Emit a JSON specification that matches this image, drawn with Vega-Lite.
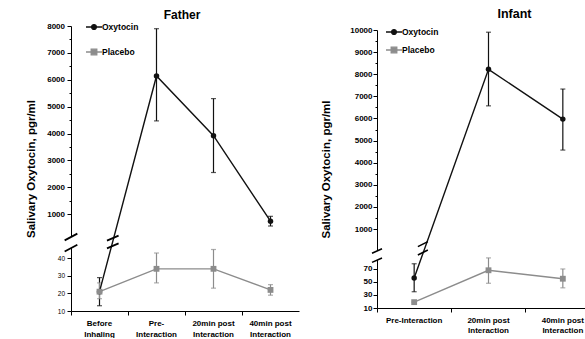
{
  "$schema": "https://vega.github.io/schema/vega-lite/v6.json",
  "padding": {"left": 25, "top": 8, "right": 0, "bottom": 0},
  "background": "white",
  "config": {
    "font": "Liberation Sans",
    "view": {"stroke": null},
    "axis": {"grid": false, "domainColor": "#000", "tickColor": "#000", "labelColor": "#000", "titleColor": "#000", "labelFont": "Liberation Sans", "titleFont": "Liberation Sans", "labelOverlap": false},
    "legend": {"labelFont": "Liberation Sans", "labelColor": "#000"},
    "title": {"font": "Liberation Sans", "color": "#000"}
  },
  "bounds": "flush",
  "spacing": 78,
  "resolve": {"scale": {"x": "independent", "y": "independent", "color": "independent"}, "legend": {"color": "independent"}},
  "hconcat": [
    {
      "width": 228,
      "height": 285,
      "title": {"text": "Father", "fontSize": 12, "fontWeight": "bold", "dx": -3, "offset": -12.5, "baseline": "alphabetic"},
      "data": {"values": [
        {"cat": "Before Inhaling", "group": "Oxytocin", "value": 21, "lo": 13, "hi": 29},
        {"cat": "Pre-Interaction", "group": "Oxytocin", "value": 6140, "lo": 4470, "hi": 7900},
        {"cat": "20min post Interaction", "group": "Oxytocin", "value": 3920, "lo": 2550, "hi": 5300},
        {"cat": "40min post Interaction", "group": "Oxytocin", "value": 740, "lo": 560, "hi": 920},
        {"cat": "Before Inhaling", "group": "Placebo", "value": 21, "lo": 17, "hi": 26},
        {"cat": "Pre-Interaction", "group": "Placebo", "value": 34, "lo": 26, "hi": 43},
        {"cat": "20min post Interaction", "group": "Placebo", "value": 34, "lo": 23, "hi": 45},
        {"cat": "40min post Interaction", "group": "Placebo", "value": 22, "lo": 19, "hi": 25}
      ]},
      "encoding": {
        "x": {
          "field": "cat", "type": "nominal",
          "sort": ["Before Inhaling", "Pre-Interaction", "20min post Interaction", "40min post Interaction"],
          "scale": {"type": "band", "paddingInner": 0, "paddingOuter": 0},
          "axis": {"title": null, "labelAngle": 0, "bandPosition": 0, "tickSize": 4, "labelPadding": 4, "labelFontSize": 8, "labelFontWeight": "bold", "labelLineHeight": 11,
            "labelExpr": "datum.value == 'Before Inhaling' ? ['Before','Inhaling'] : datum.value == 'Pre-Interaction' ? ['Pre-','Interaction'] : datum.value == '20min post Interaction' ? ['20min post','Interaction'] : ['40min post','Interaction']"}
        }
      },
      "layer": [
        {
          "mark": {"type": "rule", "strokeWidth": 1.2},
          "encoding": {
            "y": {"field": "lo", "type": "quantitative",
              "scale": {"domain": [10, 45, 300, 8000], "range": [285, 223.5, 207, 0], "nice": false, "zero": false},
              "axis": {"title": "Salivary Oxytocin, pgr/ml", "titleFontSize": 11.5, "titleFontWeight": "bold", "titlePadding": 10,
                "values": [10, 20, 30, 40, 1000, 1500, 2000, 2500, 3000, 3500, 4000, 4500, 5000, 5500, 6000, 6500, 7000, 7500, 8000],
                "tickCount": 200,
                "format": "d", "labelOverlap": false, "labelFlush": false, "labelBound": false,
                "labelExpr": "datum.value >= 1000 && datum.value % 1000 != 0 ? '' : datum.label",
                "labelFontSize": {"condition": {"test": "datum.value < 100", "value": 6.5}, "value": 8},
                "labelFontWeight": {"condition": {"test": "datum.value < 100", "value": "normal"}, "value": "bold"},
                "tickSize": {"condition": {"test": "datum.value >= 1000 && datum.value % 1000 != 0", "value": 2}, "value": 4},
                "labelPadding": 2.5}},
            "y2": {"field": "hi"},
            "color": {"field": "group", "type": "nominal", "scale": {"domain": ["Oxytocin", "Placebo"], "range": ["#111111", "#8c8c8c"]}}
          }
        },
        {
          "mark": {"type": "tick", "thickness": 1.2, "size": 5},
          "encoding": {
            "y": {"field": "lo", "type": "quantitative"},
            "color": {"field": "group", "type": "nominal"}
          }
        },
        {
          "mark": {"type": "tick", "thickness": 1.2, "size": 5},
          "encoding": {
            "y": {"field": "hi", "type": "quantitative"},
            "color": {"field": "group", "type": "nominal"}
          }
        },
        {
          "mark": {"type": "line", "strokeWidth": 1.4},
          "encoding": {
            "y": {"field": "value", "type": "quantitative"},
            "order": {"value": null},
            "color": {"field": "group", "type": "nominal",
              "legend": {"orient": "none", "legendX": 14, "legendY": -8, "title": null, "symbolSize": 256, "labelFontSize": 8.5, "labelFontWeight": "bold", "rowPadding": 11, "labelOffset": -1, "symbolStrokeWidth": 1.3,
                "encode": {"symbols": {"update": {
                  "shape": {"signal": "datum.value === 'Oxytocin' ? 'M-1,0H1M-0.3,0A0.3,0.3 0 1,0 0.3,0A0.3,0.3 0 1,0 -0.3,0Z' : 'M-1,0H1M-0.35,-0.35H0.35V0.35H-0.35Z'"},
                  "fill": {"signal": "datum.value === 'Oxytocin' ? '#111111' : '#8c8c8c'"},
                  "stroke": {"signal": "datum.value === 'Oxytocin' ? '#111111' : '#8c8c8c'"},
                  "opacity": {"value": 1}
                }}}}}
          }
        },
        {
          "transform": [{"filter": "datum.group === 'Oxytocin'"}],
          "mark": {"type": "point", "filled": true, "size": 30, "opacity": 1, "shape": "circle"},
          "encoding": {
            "y": {"field": "value", "type": "quantitative"},
            "color": {"field": "group", "type": "nominal"}
          }
        },
        {
          "transform": [{"filter": "datum.group === 'Placebo'"}],
          "mark": {"type": "point", "filled": true, "size": 34, "opacity": 1, "shape": "square"},
          "encoding": {
            "y": {"field": "value", "type": "quantitative"},
            "color": {"field": "group", "type": "nominal"}
          }
        },
        {
          "data": {"values": [{}]},
          "mark": {"type": "point", "shape": "M-1,-0.35L1,-1.41L1,0.35L-1,1.41Z", "filled": true, "fill": "white", "strokeWidth": 0, "size": 161, "opacity": 1},
          "encoding": {
            "x": {"datum": "Before Inhaling", "bandPosition": 0},
            "y": {"datum": 152, "type": "quantitative"}
          }
        },
        {
          "data": {"values": [{}]},
          "mark": {"type": "point", "shape": "M-1,-0.35L1,-1.41M-1,1.41L1,0.35", "filled": false, "stroke": "#000", "strokeWidth": 1.8, "size": 161, "opacity": 1},
          "encoding": {
            "x": {"datum": "Before Inhaling", "bandPosition": 0},
            "y": {"datum": 152, "type": "quantitative"}
          }
        },
        {
          "data": {"values": [{}]},
          "mark": {"type": "point", "shape": "M-1,-0.23L1,-1.09M-1,1.09L1,0.23", "filled": false, "stroke": "#000", "strokeWidth": 1.8, "size": 135, "opacity": 1},
          "encoding": {
            "x": {"datum": "Before Inhaling", "bandPosition": 0.733},
            "y": {"datum": 161, "type": "quantitative"}
          }
        }
      ]
    },
    {
      "width": 223,
      "height": 282,
      "title": {"text": "Infant", "fontSize": 12.5, "fontWeight": "bold", "dx": 26, "offset": -7.5, "baseline": "alphabetic"},
      "data": {"values": [
        {"cat": "Pre-Interaction", "group": "Oxytocin", "value": 56, "lo": 35, "hi": 78},
        {"cat": "20min post Interaction", "group": "Oxytocin", "value": 8220, "lo": 6570, "hi": 9900},
        {"cat": "40min post Interaction", "group": "Oxytocin", "value": 5970, "lo": 4570, "hi": 7330},
        {"cat": "Pre-Interaction", "group": "Placebo", "value": 19, "lo": 19, "hi": 19},
        {"cat": "20min post Interaction", "group": "Placebo", "value": 68, "lo": 48, "hi": 87},
        {"cat": "40min post Interaction", "group": "Placebo", "value": 55, "lo": 41, "hi": 70}
      ]},
      "encoding": {
        "x": {
          "field": "cat", "type": "nominal",
          "sort": ["Pre-Interaction", "20min post Interaction", "40min post Interaction"],
          "scale": {"type": "band", "paddingInner": 0, "paddingOuter": 0},
          "axis": {"title": null, "labelAngle": 0, "bandPosition": 0, "tickSize": 4, "labelPadding": 4, "labelFontSize": 8, "labelFontWeight": "bold", "labelLineHeight": 10,
            "labelExpr": "datum.value == 'Pre-Interaction' ? 'Pre-Interaction' : datum.value == '20min post Interaction' ? ['20min post','Interaction'] : ['40min post','Interaction']"}
        }
      },
      "layer": [
        {
          "mark": {"type": "rule", "strokeWidth": 1.2},
          "encoding": {
            "y": {"field": "lo", "type": "quantitative",
              "scale": {"domain": [10, 95, 300, 10000], "range": [282, 226.7, 218.5, 4], "nice": false, "zero": false},
              "axis": {"title": "Salivary Oxytocin, pgr/ml", "titleFontSize": 11.5, "titleFontWeight": "bold", "titlePadding": 18,
                "values": [10, 30, 50, 70, 1000, 1500, 2000, 2500, 3000, 3500, 4000, 4500, 5000, 5500, 6000, 6500, 7000, 7500, 8000, 8500, 9000, 9500, 10000],
                "tickCount": 200,
                "format": "d", "labelOverlap": false, "labelFlush": false, "labelBound": false,
                "labelExpr": "datum.value >= 1000 && datum.value % 1000 != 0 ? '' : datum.label",
                "labelFontSize": 8,
                "labelFontWeight": "bold",
                "tickSize": {"condition": {"test": "datum.value >= 1000 && datum.value % 1000 != 0", "value": 2}, "value": 4},
                "labelPadding": 1}},
            "y2": {"field": "hi"},
            "color": {"field": "group", "type": "nominal", "scale": {"domain": ["Oxytocin", "Placebo"], "range": ["#111111", "#8c8c8c"]}}
          }
        },
        {
          "mark": {"type": "tick", "thickness": 1.2, "size": 5},
          "encoding": {
            "y": {"field": "lo", "type": "quantitative"},
            "color": {"field": "group", "type": "nominal"}
          }
        },
        {
          "mark": {"type": "tick", "thickness": 1.2, "size": 5},
          "encoding": {
            "y": {"field": "hi", "type": "quantitative"},
            "color": {"field": "group", "type": "nominal"}
          }
        },
        {
          "mark": {"type": "line", "strokeWidth": 1.4},
          "encoding": {
            "y": {"field": "value", "type": "quantitative"},
            "order": {"value": null},
            "color": {"field": "group", "type": "nominal",
              "legend": {"orient": "none", "legendX": 8, "legendY": -3, "title": null, "symbolSize": 256, "labelFontSize": 8.5, "labelFontWeight": "bold", "rowPadding": 4, "labelOffset": -1, "symbolStrokeWidth": 1.3,
                "encode": {"symbols": {"update": {
                  "shape": {"signal": "datum.value === 'Oxytocin' ? 'M-1,0H1M-0.3,0A0.3,0.3 0 1,0 0.3,0A0.3,0.3 0 1,0 -0.3,0Z' : 'M-1,0H1M-0.35,-0.35H0.35V0.35H-0.35Z'"},
                  "fill": {"signal": "datum.value === 'Oxytocin' ? '#111111' : '#8c8c8c'"},
                  "stroke": {"signal": "datum.value === 'Oxytocin' ? '#111111' : '#8c8c8c'"},
                  "opacity": {"value": 1}
                }}}}}
          }
        },
        {
          "transform": [{"filter": "datum.group === 'Oxytocin'"}],
          "mark": {"type": "point", "filled": true, "size": 30, "opacity": 1, "shape": "circle"},
          "encoding": {
            "y": {"field": "value", "type": "quantitative"},
            "color": {"field": "group", "type": "nominal"}
          }
        },
        {
          "transform": [{"filter": "datum.group === 'Placebo'"}],
          "mark": {"type": "point", "filled": true, "size": 34, "opacity": 1, "shape": "square"},
          "encoding": {
            "y": {"field": "value", "type": "quantitative"},
            "color": {"field": "group", "type": "nominal"}
          }
        },
        {
          "data": {"values": [{}]},
          "mark": {"type": "point", "shape": "M-1,-0.48L1,-1.36L1,0.48L-1,1.36Z", "filled": true, "fill": "white", "strokeWidth": 0, "size": 100, "opacity": 1},
          "encoding": {
            "x": {"datum": "Pre-Interaction", "bandPosition": 0},
            "y": {"datum": 90.6, "type": "quantitative"}
          }
        },
        {
          "data": {"values": [{}]},
          "mark": {"type": "point", "shape": "M-1,-0.48L1,-1.36M-1,1.36L1,0.48", "filled": false, "stroke": "#000", "strokeWidth": 1.6, "size": 100, "opacity": 1},
          "encoding": {
            "x": {"datum": "Pre-Interaction", "bandPosition": 0},
            "y": {"datum": 90.6, "type": "quantitative"}
          }
        },
        {
          "data": {"values": [{}]},
          "mark": {"type": "point", "shape": "M-1,-0.33L1,-1.33M-1,1.33L1,0.33", "filled": false, "stroke": "#000", "strokeWidth": 1.6, "size": 100, "opacity": 1},
          "encoding": {
            "x": {"datum": "Pre-Interaction", "bandPosition": 0.617},
            "y": {"datum": 205, "type": "quantitative"}
          }
        }
      ]
    }
  ]
}
